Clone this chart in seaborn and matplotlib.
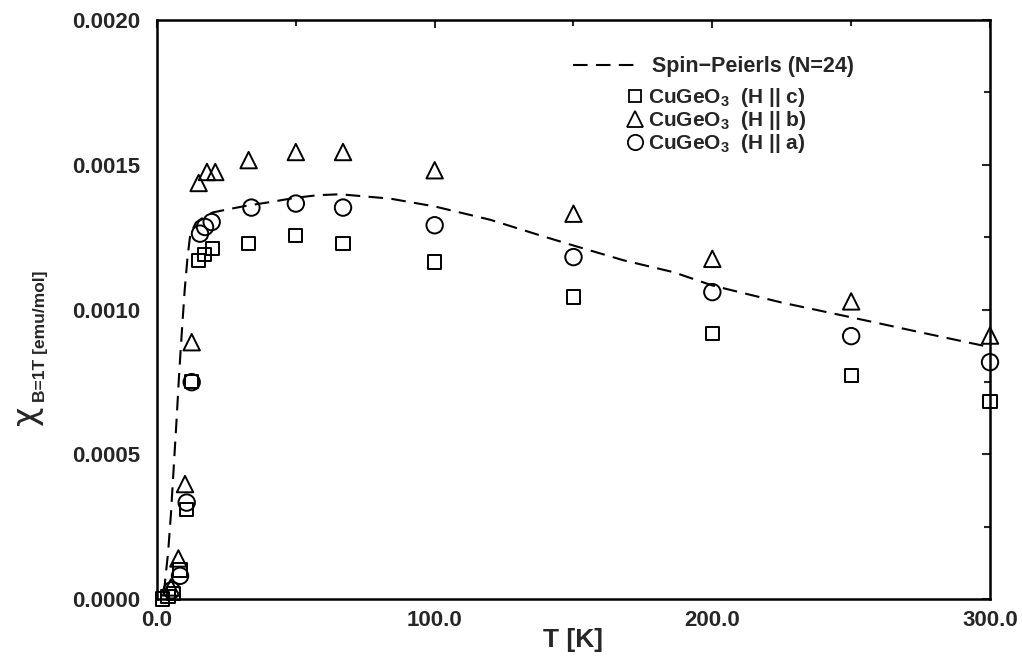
import matplotlib
matplotlib.use("Agg")
import matplotlib.pyplot as plt
import seaborn as sns
import pandas as pd
from matplotlib.lines import Line2D

# ---- data ----
# Spin-Peierls (N=24) curve
sp_T = [2.5, 3, 4, 5, 6, 7, 8, 9, 10, 11, 12, 14, 17, 20, 25, 32, 40, 50, 58, 66,
        84, 100, 120, 138, 150, 168, 186, 200, 225, 250, 275, 300]
sp_chi = [0.00002, 0.00007, 0.00016, 0.00029, 0.00045, 0.00061, 0.00078, 0.00093,
          0.00107, 0.00118, 0.00126, 0.0013, 0.00132, 0.001335, 0.001345, 0.001358,
          0.00137, 0.001386, 0.001395, 0.001398, 0.001383, 0.001356, 0.00131,
          0.001256, 0.001221, 0.00117, 0.001129, 0.001083, 0.001024, 0.000973,
          0.000921, 0.00087]

# CuGeO3 (H || c)
c_T = [2, 4, 6, 8.3, 10.7, 12.5, 15, 17, 20, 33, 50, 67, 100, 150, 200, 250, 300]
c_chi = [0.0, 0.00001, 0.00002, 0.0001, 0.00031, 0.00075, 0.00117, 0.00119, 0.00121,
         0.001227, 0.001256, 0.001227, 0.001164, 0.001043, 0.000916, 0.000772, 0.000682]

# CuGeO3 (H || b)
b_T = [5, 7.7, 10.1, 12.5, 15, 18, 21, 33, 50, 67, 100, 150, 200, 250, 300]
b_chi = [0.00004, 0.00014, 0.000397, 0.000887, 0.001437, 0.001475, 0.001475, 0.001516,
         0.001544, 0.001544, 0.001481, 0.001331, 0.001175, 0.001028, 0.00091]

# CuGeO3 (H || a)
a_T = [5.3, 8.3, 10.7, 12.5, 15.5, 17.3, 19.7, 34, 50, 67, 100, 150, 200, 250, 300]
a_chi = [0.00003, 0.00008, 0.000333, 0.000749, 0.001262, 0.001285, 0.001302, 0.001352,
         0.001366, 0.001352, 0.001291, 0.001181, 0.00106, 0.000908, 0.000818]

x_ticks = [0, 100, 200, 300]
x_ticklabels = ["0.0", "100.0", "200.0", "300.0"]
y_ticks = [0.0, 0.0005, 0.0010, 0.0015, 0.0020]
y_ticklabels = ["0.0000", "0.0005", "0.0010", "0.0015", "0.0020"]

sns.set_style("white")
plt.rcParams["font.family"] = ["Liberation Sans", "DejaVu Sans"]
plt.rcParams["mathtext.fontset"] = "custom"
plt.rcParams["mathtext.rm"] = "Liberation Sans"
plt.rcParams["mathtext.bf"] = "Liberation Sans:bold"

fig = plt.figure(figsize=(10.22, 6.56), dpi=100)
ax = fig.add_axes([0.1536, 0.0869, 0.8151, 0.8826])

df_sp = pd.DataFrame({"T": sp_T, "chi": sp_chi})
sns.lineplot(data=df_sp, x="T", y="chi", ax=ax, color="black", lw=1.5,
             linestyle=(0, (7, 4)), sort=False)

mk = dict(facecolor="none", edgecolor="black", linewidth=1.4, zorder=3, clip_on=False)
sns.scatterplot(x=c_T, y=c_chi, ax=ax, marker="s", s=90, **mk)
sns.scatterplot(x=b_T, y=b_chi, ax=ax, marker="^", s=140, **mk)
sns.scatterplot(x=a_T, y=a_chi, ax=ax, marker="o", s=140, **mk)

ax.set_xlim(0, 300)
ax.set_ylim(0, 0.002)
ax.set_xticks(x_ticks)
ax.set_xticklabels(x_ticklabels)
ax.set_xticks([50, 150, 250], minor=True)
ax.set_yticks(y_ticks)
ax.set_yticklabels(y_ticklabels)
ax.set_yticks([0.00025, 0.00075, 0.00125, 0.00175], minor=True)
ax.tick_params(which="both", direction="in", top=True, right=True, width=1.5,
               labelsize=16)
ax.tick_params(axis="y", pad=12)
ax.tick_params(axis="x", pad=8)
ax.tick_params(which="major", length=6)
ax.tick_params(which="minor", length=4)
for lab in ax.get_xticklabels() + ax.get_yticklabels():
    lab.set_fontweight("bold")
for sp in ax.spines.values():
    sp.set_linewidth(1.8)
    sp.set_color("black")

ax.set_xlabel("T [K]", fontsize=19, fontweight="bold", labelpad=-2)
ax.set_ylabel("")
# y label: large chi with a bold subscript
fig.text(27 / 1022, 1 - 415 / 656, "\u03c7", rotation=90, fontsize=24,
         ha="center", va="center", family=["DejaVu Sans"])
fig.text(41 / 1022, 1 - 336 / 656, "B=1T [emu/mol]", rotation=90, fontsize=12.5,
         fontweight="bold", ha="center", va="center")

# legends: dashed line entry, then marker entries
h_line = Line2D([], [], color="black", lw=1.5, linestyle=(0, (7, 4)))
leg1 = ax.legend([h_line], ["Spin\u2212Peierls (N=24)"], loc="upper left",
                 bbox_to_anchor=(0.499, 0.937), frameon=False, handlelength=3.0,
                 handletextpad=0.7, borderpad=0, borderaxespad=0,
                 prop={"weight": "bold", "size": 15.5})
ax.add_artist(leg1)

hs = [Line2D([], [], ls="none", marker=m, markersize=sz, markerfacecolor="none",
             markeredgecolor="black", markeredgewidth=1.3)
      for m, sz in [("s", 9), ("^", 11), ("o", 11)]]
labels = [r"CuGeO$_\mathbf{3}$  (H || c)", r"CuGeO$_\mathbf{3}$  (H || b)",
          r"CuGeO$_\mathbf{3}$  (H || a)"]
leg2 = ax.legend(hs, labels, loc="upper left", bbox_to_anchor=(0.562, 0.886),
                 frameon=False, handlelength=0.9, handletextpad=0.2,
                 labelspacing=0.0, borderpad=0, borderaxespad=0,
                 prop={"weight": "bold", "size": 15})

fig.savefig("out.png", dpi=100)
